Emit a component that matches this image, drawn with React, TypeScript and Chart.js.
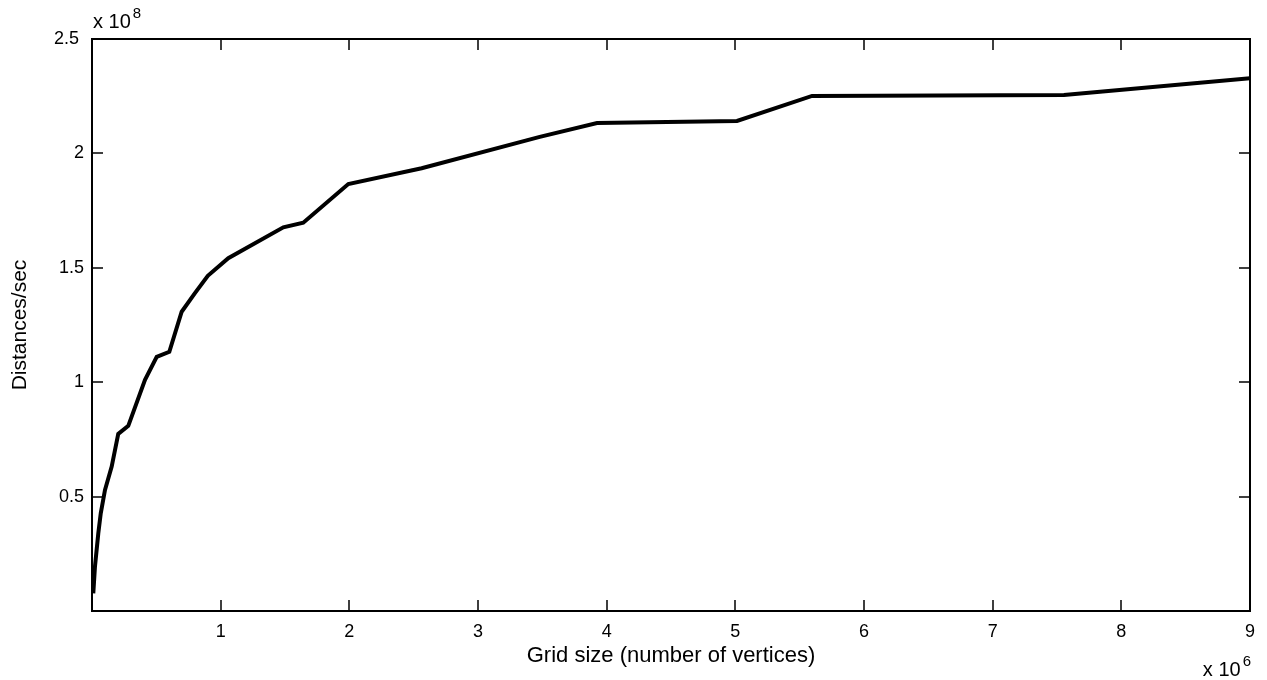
import React, { useEffect, useRef } from 'react';
import { Chart, registerables } from 'chart.js';

Chart.register(...registerables);

// Grid size, in units of 10^6 vertices
const gridSize = [
  0.01, 0.023, 0.049, 0.068, 0.101, 0.153, 0.204, 0.282, 0.412, 0.503, 0.601,
  0.697, 0.8, 0.9, 1.059, 1.487, 1.642, 1.992, 2.562, 3.48, 3.925, 5.013,
  5.596, 7.554, 9.0,
];
// Distances per second, in units of 10^8
const distancesPerSec = [
  0.077, 0.194, 0.34, 0.427, 0.529, 0.631, 0.774, 0.809, 1.01, 1.111, 1.133,
  1.308, 1.389, 1.465, 1.542, 1.677, 1.697, 1.866, 1.935, 2.072, 2.133, 2.142,
  2.251, 2.255, 2.329,
];

const xTickValues = [0, 1, 2, 3, 4, 5, 6, 7, 8, 9];
const yTickValues = [0, 0.5, 1, 1.5, 2, 2.5];
const xTitle = 'Grid size (number of vertices)';
const yTitle = 'Distances/sec';
const xExponent = '6';
const yExponent = '8';

const FONT = '"Liberation Sans", Arial, Helvetica, sans-serif';

const matlabFrame = {
  id: 'matlabFrame',
  afterDatasetsDraw(chart: any) {
    const { ctx, chartArea, scales } = chart;
    const { left, right, top, bottom } = chartArea;
    ctx.save();
    ctx.strokeStyle = '#000';
    ctx.lineWidth = 2;
    ctx.strokeRect(left, top, right - left, bottom - top);
    ctx.lineWidth = 1.5;
    const L = 11;
    xTickValues.forEach((v) => {
      const px = Math.round(scales.x.getPixelForValue(v));
      ctx.beginPath();
      ctx.moveTo(px, bottom);
      ctx.lineTo(px, bottom - L);
      ctx.moveTo(px, top);
      ctx.lineTo(px, top + L);
      ctx.stroke();
    });
    yTickValues.forEach((v) => {
      const py = Math.round(scales.y.getPixelForValue(v));
      ctx.beginPath();
      ctx.moveTo(left, py);
      ctx.lineTo(left + L, py);
      ctx.moveTo(right, py);
      ctx.lineTo(right - L, py);
      ctx.stroke();
    });

    // exponent labels
    ctx.fillStyle = '#000';
    ctx.textAlign = 'left';
    ctx.textBaseline = 'alphabetic';
    const base = 'x 10';
    const baseFont = `20px ${FONT}`;
    const supFont = `15px ${FONT}`;
    ctx.font = baseFont;
    const wBase = ctx.measureText(base).width;
    ctx.font = supFont;
    const wX = ctx.measureText(xExponent).width;

    // y exponent (top left)
    ctx.font = baseFont;
    ctx.fillText(base, left + 1, top - 11);
    ctx.font = supFont;
    ctx.fillText(yExponent, left + 1 + wBase + 2, top - 21);

    // x exponent (bottom right)
    const startX = right + 1 - (wBase + 2 + wX);
    ctx.font = baseFont;
    ctx.fillText(base, startX, bottom + 65);
    ctx.font = supFont;
    ctx.fillText(xExponent, startX + wBase + 2, bottom + 55);
    ctx.restore();
  },
};

export default function App() {
  const ref = useRef<HTMLCanvasElement | null>(null);

  useEffect(() => {
    if (!ref.current) return;
    const points = gridSize.map((x, i) => ({ x, y: distancesPerSec[i] }));
    const chart = new Chart(ref.current, {
      type: 'line',
      data: {
        datasets: [
          {
            data: points,
            borderColor: '#000',
            borderWidth: 4,
            pointRadius: 0,
            tension: 0,
            fill: false,
          },
        ],
      },
      options: {
        animation: false,
        responsive: false,
        maintainAspectRatio: false,
        layout: { padding: { top: 39, right: 17, left: 0, bottom: 0 } },
        plugins: {
          legend: { display: false },
          tooltip: { enabled: false },
          title: { display: false },
        },
        scales: {
          x: {
            type: 'linear',
            min: 0,
            max: 9,
            grid: { display: false, drawTicks: false },
            border: { display: false },
            afterBuildTicks: (scale: any) => {
              scale.ticks = xTickValues.map((v) => ({ value: v }));
            },
            afterFit: (scale: any) => {
              scale.height = 69;
            },
            ticks: {
              color: '#000',
              font: { family: FONT, size: 18 },
              padding: 10,
              autoSkip: false,
              maxRotation: 0,
              callback: (v: any) => (Number(v) === 0 ? '' : String(v)),
            },
            title: {
              display: true,
              text: xTitle,
              color: '#000',
              font: { family: FONT, size: 22 },
              padding: { top: 0, bottom: 11 },
            },
          },
          y: {
            type: 'linear',
            min: 0,
            max: 2.5,
            grid: { display: false, drawTicks: false },
            border: { display: false },
            afterBuildTicks: (scale: any) => {
              scale.ticks = yTickValues.map((v) => ({ value: v }));
            },
            afterFit: (scale: any) => {
              scale.width = 92;
            },
            ticks: {
              color: '#000',
              font: { family: FONT, size: 18 },
              padding: 8,
              autoSkip: false,
              callback: (v: any) => {
                const n = Number(v);
                if (n === 0) return '';
                return n === 2.5 ? '2.5 ' : String(n);
              },
            },
            title: {
              display: true,
              text: yTitle,
              color: '#000',
              font: { family: FONT, size: 21 },
              padding: { top: 8, bottom: 0 },
            },
          },
        },
      },
      plugins: [matlabFrame],
    });
    return () => chart.destroy();
  }, []);

  return (
    <div style={{ position: 'absolute', left: 0, top: 0, width: 1267, height: 680, background: '#fff' }}>
      <canvas ref={ref} width={1267} height={680} style={{ display: 'block', width: 1267, height: 680 }} />
    </div>
  );
}
